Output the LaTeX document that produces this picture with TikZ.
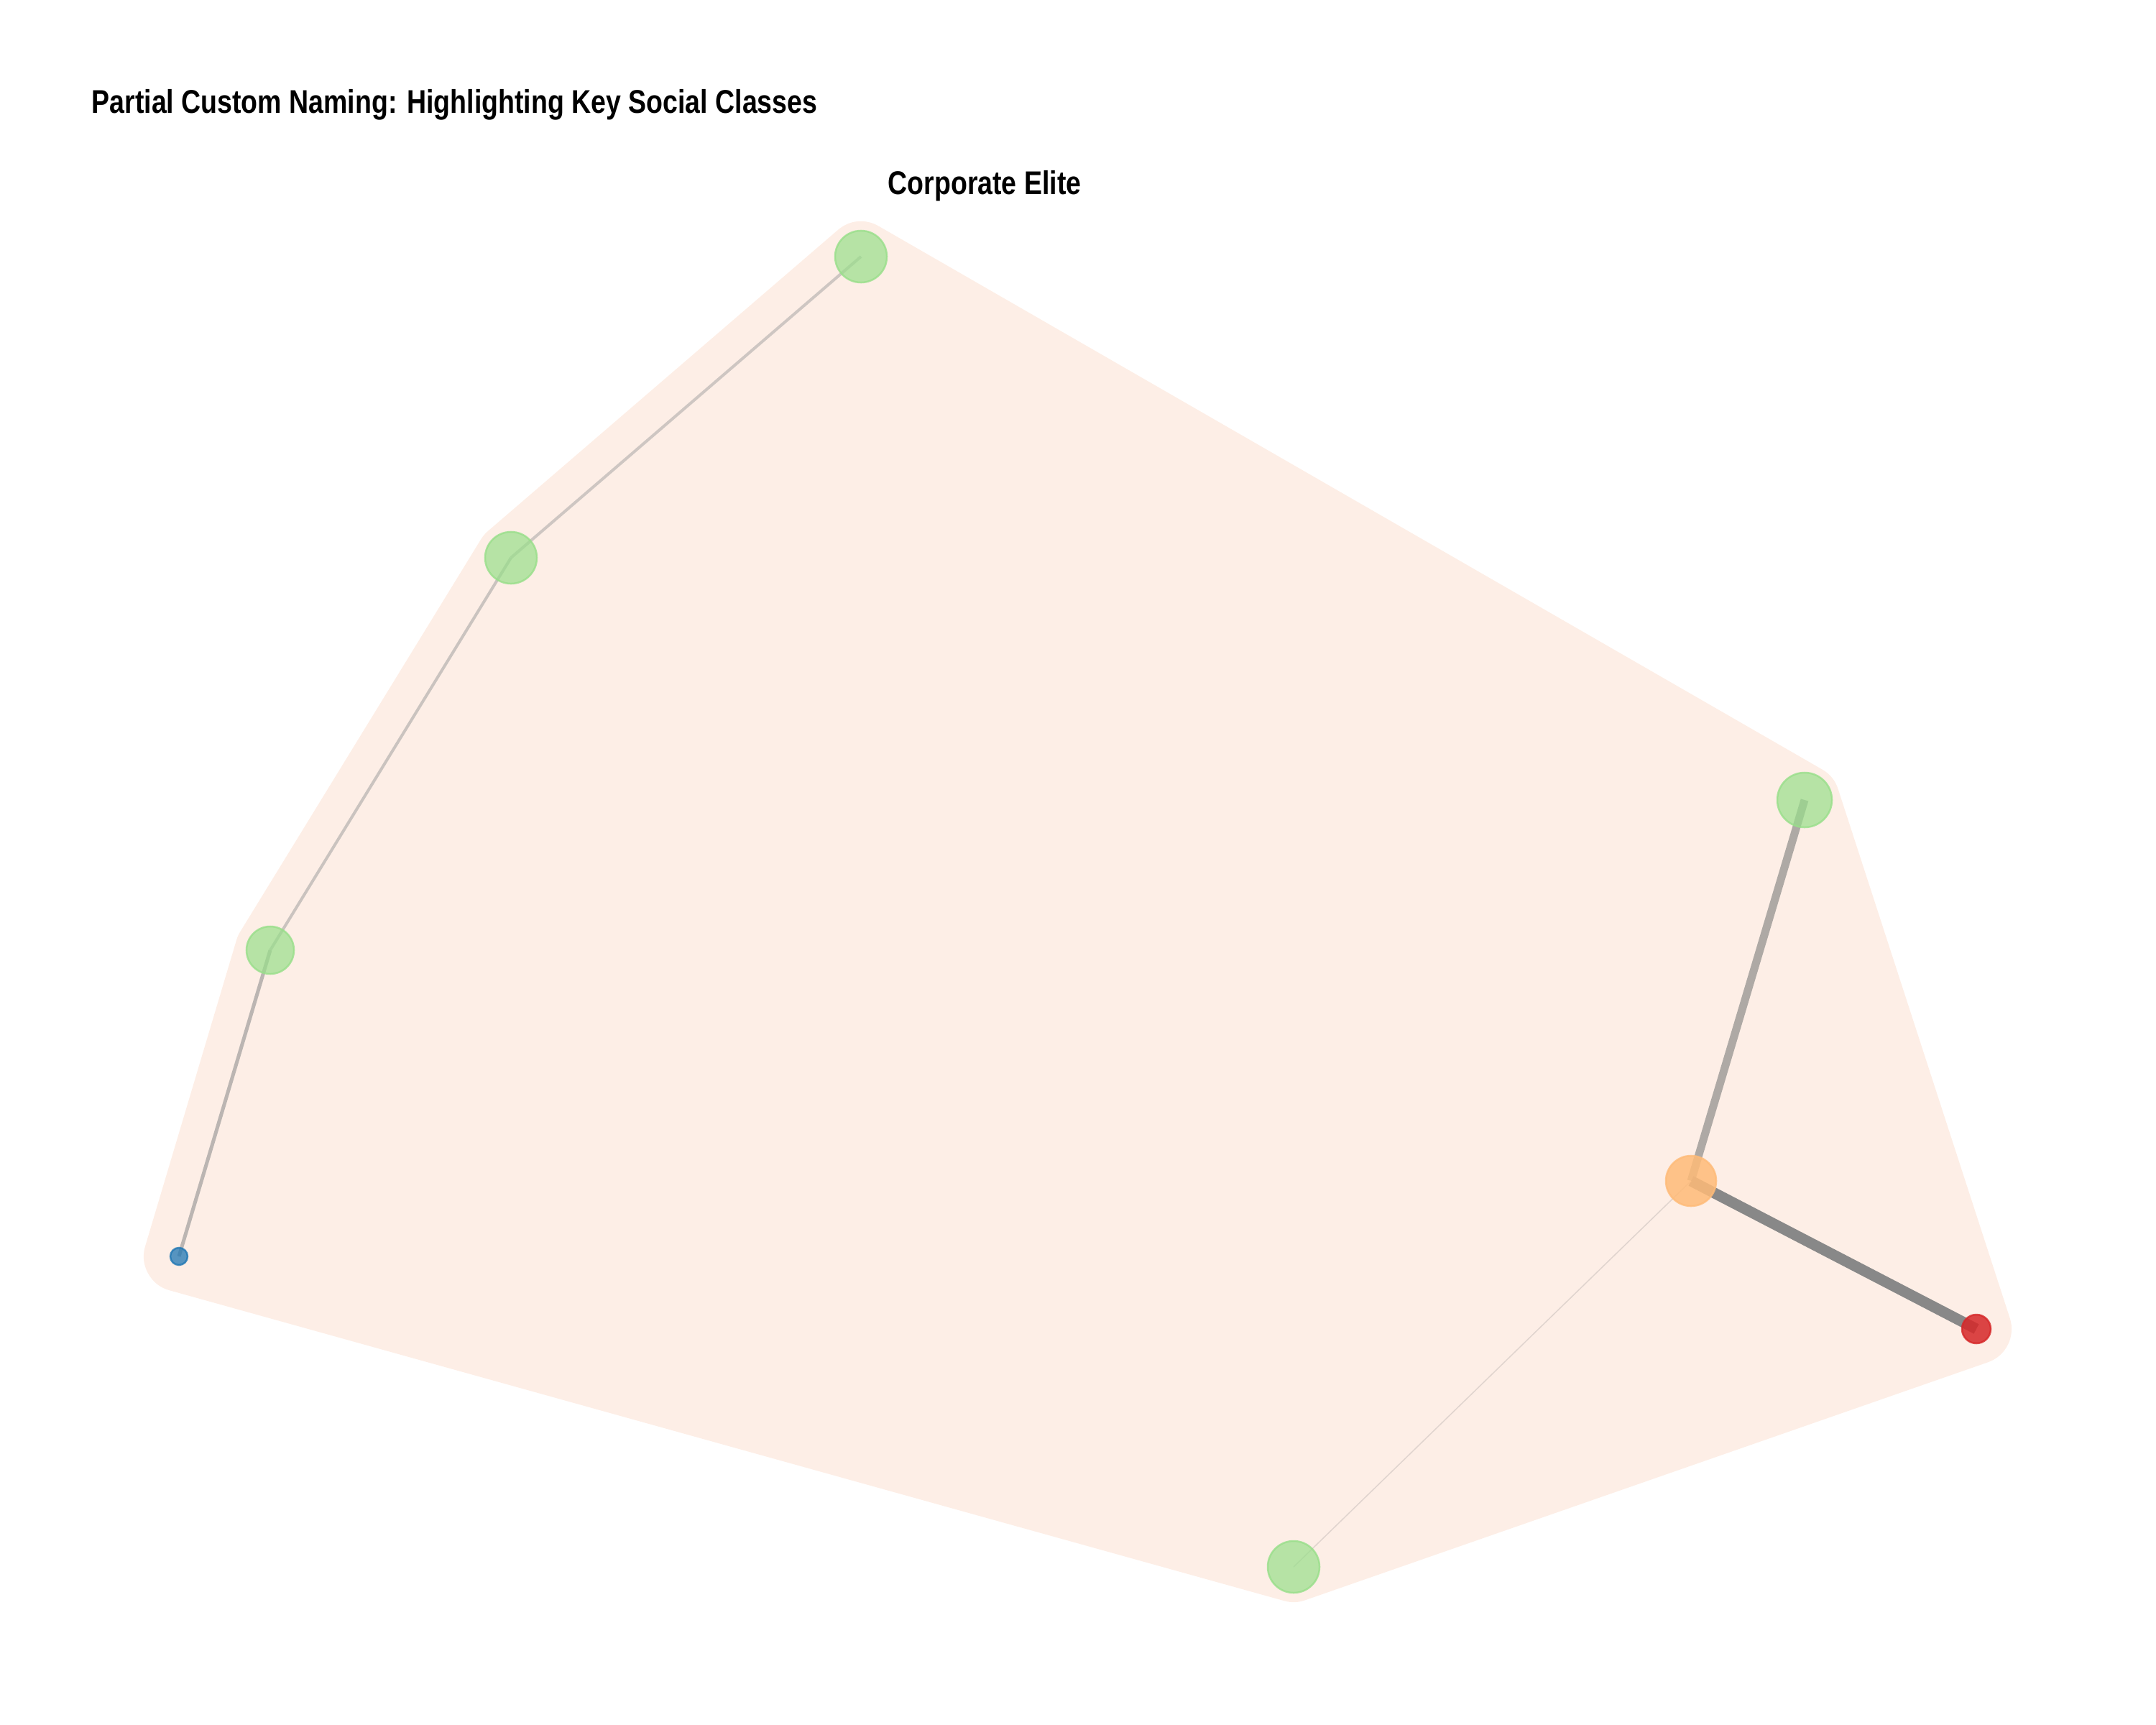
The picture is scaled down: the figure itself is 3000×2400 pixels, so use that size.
\documentclass[tikz,border=0pt]{standalone}
\usepackage{fontspec}
\setmainfont{Liberation Sans}[FakeStretch=0.82]
\definecolor{hullpeach}{HTML}{FDEEE6}
\definecolor{lgreen}{HTML}{98DF8A}
\definecolor{lorange}{HTML}{FFBB78}
\definecolor{tred}{HTML}{D62728}
\definecolor{tblue}{HTML}{1F77B4}
\pgfdeclarelayer{hull}
\pgfdeclarelayer{edges}
\pgfsetlayers{hull,edges,main}

\begin{document}
\begin{tikzpicture}[x=0.01cm, y=-0.01cm]
    \tikzstyle{cnode}=[circle, inner sep=0pt, line width=0.025cm, fill opacity=0.7, draw opacity=0.8]
    \tikzstyle{gnode}=[cnode, fill=lgreen, draw=lgreen, minimum size=0.72cm]
    \tikzstyle{onode}=[cnode, fill=lorange, draw=lorange, fill opacity=0.85, minimum size=0.70cm]
    \tikzstyle{rnode}=[cnode, fill=tred, draw=tred, fill opacity=0.85, minimum size=0.40cm]
    \tikzstyle{bnode}=[cnode, fill=tblue, draw=tblue, fill opacity=0.75, minimum size=0.24cm]
    \tikzstyle{tlabel}=[font=\bfseries\fontsize{13}{15}\selectfont, inner sep=0pt]
    \def\hullpad{0.98cm}

    \useasboundingbox (0,0) rectangle (3000,2400);

    % nodes
    \node[gnode] (top) at (1198,357) {};
    \node[gnode] (upper) at (711,776) {};
    \node[gnode, minimum size=0.66cm] (left) at (376,1322) {};
    \node[bnode] (worker) at (249,1748) {};
    \node[gnode, minimum size=0.76cm] (right) at (2511,1113) {};
    \node[onode] (hub) at (2353,1643) {};
    \node[rnode] (outlier) at (2750,1849) {};
    \node[gnode] (bottom) at (1800,2180) {};

    % texts
    \node[tlabel, anchor=base west] (title) at (127,158) {Partial Custom Naming: Highlighting Key Social Classes};
    \node[tlabel, anchor=base] (elite) at (1370,271) {Corporate Elite};

    % class hull
    \begin{pgfonlayer}{hull}
        \filldraw[hullpeach, line width=\hullpad, line join=round]
            (worker.center) -- (left.center) -- (upper.center) -- (top.center)
            -- (right.center) -- (outlier.center) -- (bottom.center) -- cycle;
    \end{pgfonlayer}

    % ties
    \begin{pgfonlayer}{edges}
        \draw[color={rgb,255:red,206;green,198;blue,194}, line width=0.04cm] (top.center) -- (upper.center);
        \draw[color={rgb,255:red,202;green,195;blue,191}, line width=0.04cm] (upper.center) -- (left.center);
        \draw[color={rgb,255:red,187;green,181;blue,178}, line width=0.05cm] (left.center) -- (worker.center);
        \draw[color={rgb,255:red,174;green,169;blue,165}, line width=0.11cm] (right.center) -- (hub.center);
        \draw[color={rgb,255:red,136;green,136;blue,136}, line width=0.15cm] (hub.center) -- (outlier.center);
        \draw[color={rgb,255:red,224;green,212;blue,206}, line width=0.015cm] (hub.center) -- (bottom.center);
    \end{pgfonlayer}
\end{tikzpicture}
\end{document}
